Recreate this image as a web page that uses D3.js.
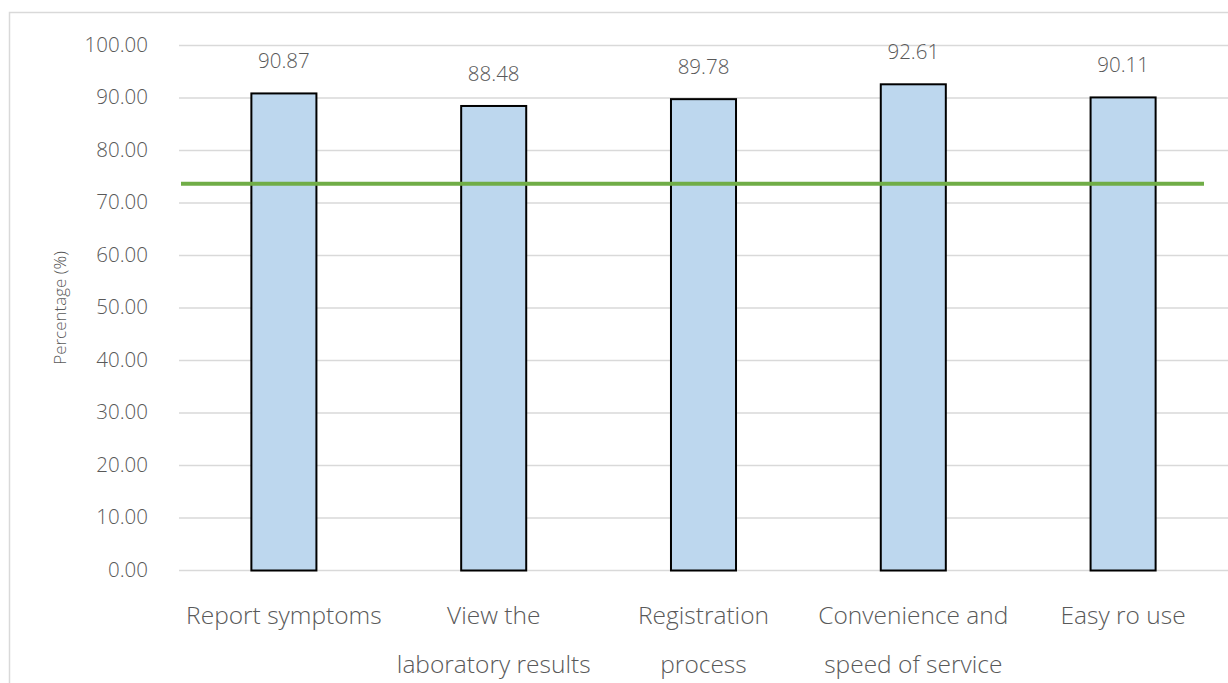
<!DOCTYPE html>
<html>
<head>
<meta charset="utf-8">
<script src="https://cdn.jsdelivr.net/npm/d3@7"></script>
<style>
  html, body { margin: 0; padding: 0; background: #fff; }
  svg { display: block; }
  text { font-family: "Open Sans", "Noto Sans", sans-serif; font-weight: 300; fill: #595959; }
</style>
</head>
<body>
<svg id="chart" width="1228" height="683"></svg>
<script>
// Satisfaction scores per service aspect (percent)
const categories = [
  ["Report symptoms"],
  ["View the", "laboratory results"],
  ["Registration", "process"],
  ["Convenience and", "speed of service"],
  ["Easy ro use"]
];
const values = [90.87, 88.48, 89.78, 92.61, 90.11];
const threshold = [73.66];
const yTicks = [0, 10, 20, 30, 40, 50, 60, 70, 80, 90, 100];
const yTitle = "Percentage (%)";

const svg = d3.select("#chart");
const W = 1228, H = 683;

// chart frame
svg.append("rect")
  .attr("x", 9.5).attr("y", 12.5)
  .attr("width", W + 20).attr("height", H + 20)
  .attr("fill", "none").attr("stroke", "#d9d9d9").attr("stroke-width", 1.5);

const plot = { left: 179, right: 1228, top: 45.5, bottom: 570.5 };

const x = d3.scaleBand()
  .domain(d3.range(values.length))
  .range([plot.left, plot.right])
  .padding(0);
const barW = x.bandwidth() * 0.31;

const y = d3.scaleLinear().domain([0, 100]).range([plot.bottom, plot.top]);

// horizontal gridlines
svg.append("g").selectAll("line").data(yTicks).join("line")
  .attr("x1", plot.left).attr("x2", plot.right)
  .attr("y1", d => y(d)).attr("y2", d => y(d))
  .attr("stroke", "#d9d9d9").attr("stroke-width", 1.5);

// y tick labels
const yAxis = d3.axisLeft(y).tickValues(yTicks).tickFormat(d3.format(".2f")).tickSize(0).tickPadding(0);
const gy = svg.append("g").attr("transform", `translate(148,0)`).call(yAxis);
gy.select(".domain").remove();
gy.selectAll("text")
  .attr("font-size", 20.5)
  .style("font-family", "'Open Sans', 'Noto Sans', sans-serif")
  .attr("fill", "#595959")
  .attr("dy", "0.28em");

// y axis title
svg.append("text")
  .attr("transform", `translate(66,${(plot.top + plot.bottom) / 2}) rotate(-90)`)
  .attr("text-anchor", "middle")
  .attr("font-size", 17)
  .text(yTitle);

// bars
svg.append("g").selectAll("rect").data(values).join("rect")
  .attr("x", (d, i) => x(i) + x.bandwidth() / 2 - barW / 2)
  .attr("y", d => y(d))
  .attr("width", barW)
  .attr("height", d => y(0) - y(d))
  .attr("fill", "#bdd7ee")
  .attr("stroke", "#000")
  .attr("stroke-width", 2);

// value labels
svg.append("g").selectAll("text").data(values).join("text")
  .attr("x", (d, i) => x(i) + x.bandwidth() / 2)
  .attr("y", d => y(d) - 25)
  .attr("text-anchor", "middle")
  .attr("font-size", 20.5)
  .text(d => d3.format(".2f")(d));

// reference line
svg.append("g").selectAll("line").data(threshold).join("line")
  .attr("x1", plot.left + 2).attr("x2", plot.right - 24)
  .attr("y1", d => y(d)).attr("y2", d => y(d))
  .attr("stroke", "#70ad47").attr("stroke-width", 4);

// category labels (wrapped lines)
const cat = svg.append("g").selectAll("text").data(categories).join("text")
  .attr("text-anchor", "middle")
  .attr("font-size", 24.5);
cat.each(function(lines, i) {
  d3.select(this).selectAll("tspan").data(lines).join("tspan")
    .attr("x", x(i) + x.bandwidth() / 2)
    .attr("y", (d, j) => 624 + j * 49)
    .text(d => d);
});
</script>
</body>
</html>
